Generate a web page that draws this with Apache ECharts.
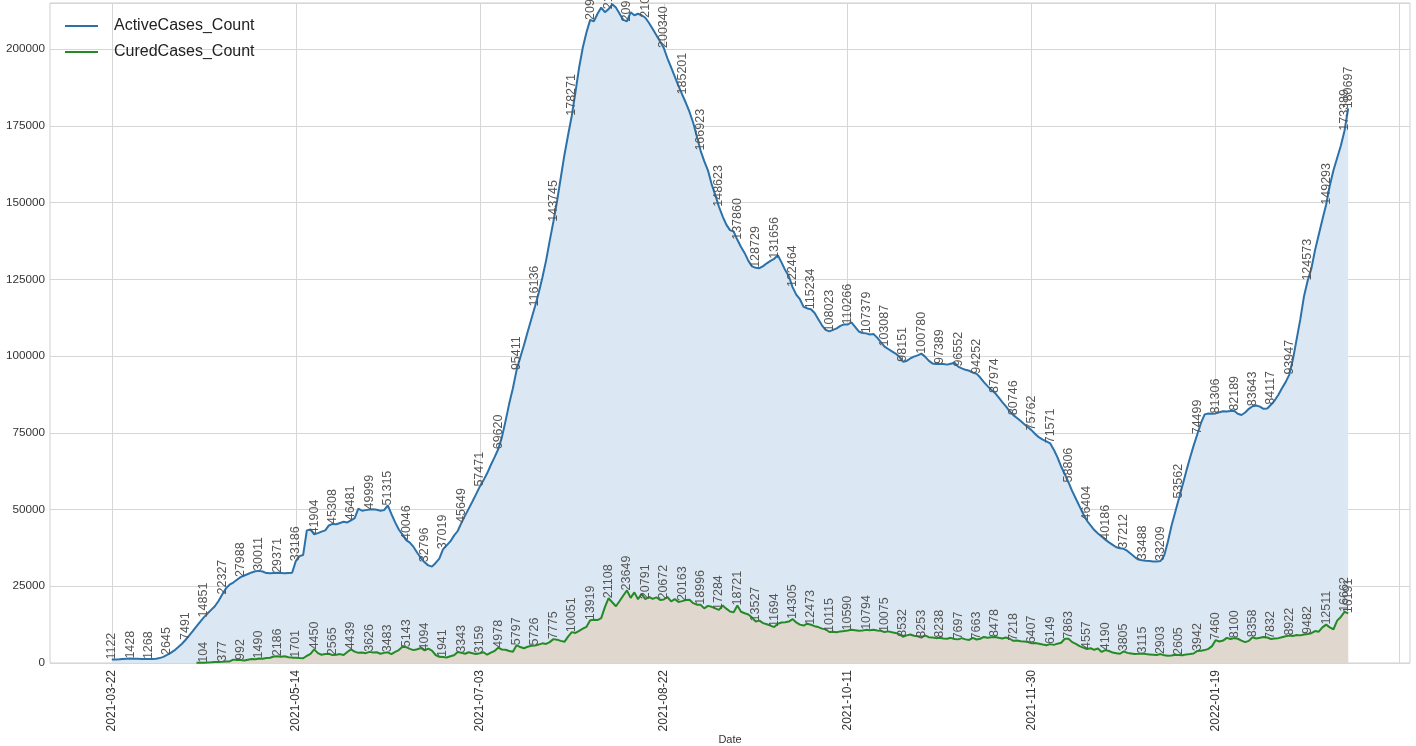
<!DOCTYPE html>
<html>
<head>
<meta charset="utf-8">
<script src="https://cdn.jsdelivr.net/npm/echarts@6/dist/echarts.min.js"></script>
<style>
html,body{margin:0;padding:0;background:#fff;}
#chart{width:1416px;height:746px;}
</style>
</head>
<body>
<div id="chart"></div>
<script>
// Tick labels (categorical positions every 50 rows)
const tickLabels = ['2021-03-22','2021-05-14','2021-07-03','2021-08-22','2021-10-11','2021-11-30','2022-01-19'];
const tickRows = [0,50,100,150,200,250,300];

// ActiveCases_Count, one value per row (337 rows)
const activeCases = [
  1122,1150,1200,1300,1380,1428,1400,1350,1300,1280,
  1268,1300,1400,1600,2000,2645,3300,4100,5100,6200,
  7491,8900,10400,11900,13400,14851,16100,17300,18500,20200,
  22327,24300,25500,26200,27100,27988,28500,29000,29500,29900,
  30011,29800,29300,29200,29300,29371,29300,29200,29300,29400,
  33186,34800,35200,43200,43500,41904,42300,42800,43200,44800,
  45308,45200,45600,46000,45800,46481,47200,50300,49600,49800,
  49999,50100,49900,49600,49800,51315,48500,45800,43500,41800,
  40046,39200,37800,35900,34200,32796,31800,31400,32600,34000,
  37019,38300,39600,41500,43000,45649,48000,50300,52600,55000,
  57471,59500,61800,64500,67000,69620,73500,78800,84500,89500,
  95411,99500,103500,107800,112000,116136,120500,125500,131000,137500,
  143745,150500,158000,165500,172000,178271,186000,194000,200500,205500,
  209500,209000,211500,213500,212000,213000,214600,213500,211500,209500,
  209000,212000,211000,211500,211000,210200,208500,206500,204500,202500,
  200340,197000,194000,191000,188000,185201,182500,179500,176000,171500,
  166923,163500,160500,156000,152500,148623,145500,142800,141000,140500,
  137860,135500,133500,131000,129200,128729,128600,129300,130200,131000,
  131656,132800,130500,128000,126000,122464,120000,118500,116000,115500,
  115234,114000,112000,110000,108500,108023,108500,109000,109800,110300,
  110266,111000,109500,108000,107500,107379,107000,107200,106000,104500,
  103087,102300,101500,100800,99800,98151,98400,99200,99800,100200,
  100780,99800,98500,97600,97400,97389,97400,97200,97500,97800,
  96552,96000,95500,95200,94600,94252,93000,91500,90200,89000,
  87974,86500,85000,83600,82000,80746,79800,78800,77800,76800,
  75762,74500,73500,72800,72200,71571,69500,67000,64000,61500,
  58806,56000,53500,51000,48500,46404,44800,43300,42200,41200,
  40186,39300,38500,37700,37400,37212,36500,35500,34500,33700,
  33488,33300,33200,33100,33100,33209,35000,39500,44800,49200,
  53562,58000,62500,66800,70800,74499,78200,81000,81300,81200,
  81306,81700,82000,81900,82100,82189,81200,80800,81600,82800,
  83643,83900,83500,82800,82900,84117,85500,87300,89500,91500,
  93947,99000,105500,112000,119500,124573,128500,134500,139500,144500,
  149293,155500,160500,164500,168500,173389,180697
];

// CuredCases_Count, one value per row (null before reporting starts)
const curedCases = [
  null,null,null,null,null,null,null,null,null,null,
  null,null,null,null,null,null,null,null,null,null,
  null,null,null,60,90,104,180,230,300,350,
  377,450,520,1100,1000,992,800,1050,1300,1250,
  1490,1400,1600,1700,2100,2186,2050,2200,1900,1750,
  1701,1600,1550,2300,3000,4450,3200,2700,2900,3000,
  2565,2700,2900,2600,3600,4439,3700,3300,3400,3200,
  3626,3400,3500,3000,3300,3483,2900,3600,4200,5300,
  5143,4600,4200,4500,4900,4094,4700,4000,2600,2000,
  1941,1800,2200,2500,3600,3343,3000,3500,3200,2900,
  3159,3500,2700,3400,3900,4978,4400,4300,3900,3700,
  5797,5200,4800,5300,5600,5726,6000,6400,6200,6800,
  7775,7600,7200,6900,8600,10051,9800,10500,11200,11800,
  13919,14100,14000,14600,18200,21108,19800,18500,20200,22000,
  23649,21200,23000,20800,22500,20791,21500,20900,21400,20500,
  20672,21500,20100,20800,19900,20163,20500,20600,19500,19000,
  18996,17800,18600,18300,17800,17284,18700,17700,16800,16500,
  18721,16700,16200,15800,14800,13527,13800,13000,12600,12200,
  11694,12800,13200,13300,13500,14305,13200,12500,12200,12800,
  12473,12000,11700,11200,11000,10115,10200,10000,10300,10400,
  10590,10800,10700,10500,10600,10794,10700,10800,10600,10500,
  10075,10300,10000,9800,9400,8532,9000,9300,8900,8700,
  8253,9000,8400,8300,8100,8238,8000,7900,8200,7800,
  7697,8100,7700,7500,8200,7663,7900,8500,8200,8400,
  8478,8200,8000,8300,7900,7218,7300,7100,7000,6800,
  6407,6500,6300,6000,5800,6149,5900,6300,6600,7900,
  7863,6800,6200,5500,5000,4557,4800,4300,4700,3600,
  4190,3900,3400,3200,3000,3805,3300,3100,2900,3000,
  3115,2900,2800,2700,2600,2903,2500,2400,2450,2700,
  2605,2500,2800,2900,3100,3942,4000,4200,4600,5500,
  7460,7000,7300,8200,7800,8100,7900,7300,6800,7200,
  8358,8000,8200,8500,8300,7832,8000,8100,8400,8700,
  8922,8800,9100,9000,9300,9482,9700,10400,10200,11600,
  12511,11600,11000,13800,15000,16662,16191
];

const yTicks = [0,25000,50000,75000,100000,125000,150000,175000,200000];

const lastRow = activeCases.length - 1;
const toPairs = arr => arr.map((v, i) => [i, v]);
const labelFmt = p => {
  const i = p.dataIndex;
  if (p.value[1] == null) return '';
  return (i % 5 === 0 || i === lastRow) ? String(p.value[1]) : '';
};
const pad = lastRow * 0.05;
const FONT = '"Liberation Sans", Arial, sans-serif';
const LEG_ICON = 'path://M0,7.5 L33,7.5 L33,9.5 L0,9.5 Z';

const chart = echarts.init(document.getElementById('chart'), null, {renderer: 'canvas'});
chart.setOption({
  animation: false,
  backgroundColor: '#ffffff',
  textStyle: {fontFamily: FONT},
  grid: {left: 50, right: 6, top: 3, bottom: 83, show: true, borderColor: '#cfcfcf', borderWidth: 1,
    containLabel: false, outerBoundsMode: 'none'},
  legend: {
    orient: 'vertical', left: 60, top: 13, itemGap: 10,
    itemWidth: 33, itemHeight: 17,
    textStyle: {fontSize: 16, color: '#222', fontFamily: FONT, padding: [0,0,0,11]},
    data: [
      {name: 'ActiveCases_Count', icon: LEG_ICON},
      {name: 'CuredCases_Count', icon: LEG_ICON}
    ]
  },
  graphic: [{
    type: 'text', x: 730, y: 740, silent: true,
    style: {text: 'Date', fontSize: 11, fill: '#333', fontFamily: FONT, align: 'center', verticalAlign: 'middle'}
  }],
  xAxis: {
    type: 'value', min: -pad, max: lastRow + pad,
    axisLine: {show: false}, axisTick: {show: false, customValues: [0,50,100,150,200,250,300,350]},
    axisLabel: {
      customValues: tickRows, rotate: 90, fontSize: 12, color: '#333', margin: 7, fontFamily: FONT,
      formatter: v => { const k = tickRows.indexOf(Math.round(v)); return k >= 0 ? tickLabels[k] : ''; }
    },
    splitLine: {show: true, lineStyle: {color: '#d6d6d6', width: 1}}
  },
  yAxis: {
    type: 'value', min: 0, max: 215000, interval: 25000,
    axisLine: {show: false}, axisTick: {show: false},
    axisLabel: {fontSize: 11.7, color: '#333', margin: 5, showMaxLabel: false, fontFamily: FONT,
      formatter: v => yTicks.indexOf(v) >= 0 ? String(v) : ''},
    splitLine: {show: true, lineStyle: {color: '#d6d6d6', width: 1}}
  },
  series: [
    {
      name: 'ActiveCases_Count', type: 'line', data: toPairs(activeCases),
      symbol: 'circle', symbolSize: 0, showSymbol: true, showAllSymbol: true,
      lineStyle: {color: '#2b71aa', width: 2}, itemStyle: {color: '#2b71aa'},
      areaStyle: {color: '#dbe7f2', opacity: 1},
      label: {show: true, position: 'top', distance: 0, rotate: 90, align: 'left', verticalAlign: 'middle',
        fontSize: 12.5, color: '#555', fontFamily: FONT, formatter: labelFmt},
      z: 2
    },
    {
      name: 'CuredCases_Count', type: 'line', data: toPairs(curedCases),
      symbol: 'circle', symbolSize: 0, showSymbol: true, showAllSymbol: true, connectNulls: false,
      lineStyle: {color: '#248a24', width: 2}, itemStyle: {color: '#248a24'},
      areaStyle: {color: '#e0d8cf', opacity: 1},
      label: {show: true, position: 'top', distance: 0, rotate: 90, align: 'left', verticalAlign: 'middle',
        fontSize: 12.5, color: '#555', fontFamily: FONT, formatter: labelFmt},
      z: 3
    }
  ]
});
</script>
</body>
</html>
